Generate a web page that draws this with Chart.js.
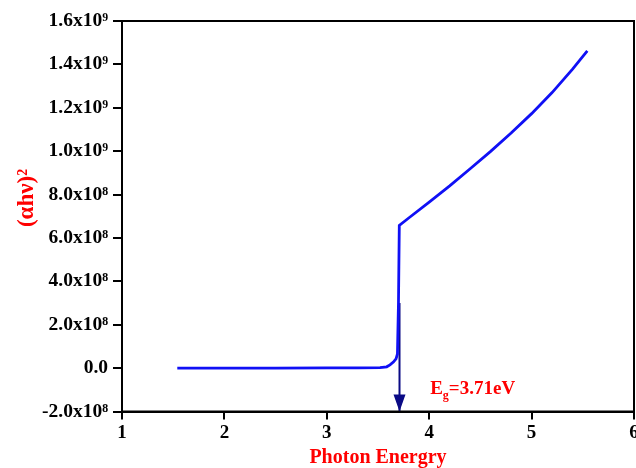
<!DOCTYPE html>
<html>
<head>
<meta charset="utf-8">
<script src="https://cdn.jsdelivr.net/npm/chart.js@4.4.0/dist/chart.umd.min.js"></script>
<style>
    html, body { margin: 0; padding: 0; background: #fff; }
    #wrap { width: 636px; height: 468px; }
</style>
</head>
<body>
<div id="wrap"><canvas id="chart" width="636" height="468"></canvas></div>
<script>
// Tauc plot data: photon energy (eV) vs (αhν)^2
const energy = [1.54, 2.0, 2.5, 3.0, 3.3, 3.52, 3.585, 3.617, 3.65, 3.676, 3.69, 3.70, 3.708,
                3.8, 4.0, 4.2, 4.4, 4.6, 4.8, 5.0, 5.2, 5.4, 5.544];
const absorb = [0, 0, 0, 0.01e8, 0.01e8, 0.02e8, 0.06e8, 0.15e8, 0.28e8, 0.43e8, 0.65e8, 3.0e8, 6.58e8,
                6.92e8, 7.65e8, 8.40e8, 9.19e8, 9.99e8, 10.84e8, 11.73e8, 12.70e8, 13.78e8, 14.62e8];

// band gap marker
const gapEnergy = [3.71, 3.71];
const gapArrow = [3.0e8, -2.0e8];
const gapLabel = { x: 4.0, y: -1.2e8 };

const xTicks = [1, 2, 3, 4, 5, 6];
const yTicks = [-2e8, 0, 2e8, 4e8, 6e8, 8e8, 1e9, 1.2e9, 1.4e9, 1.6e9];
const yTickLabels = ['-2.0x10⁸', '0.0', '2.0x10⁸', '4.0x10⁸', '6.0x10⁸', '8.0x10⁸',
                     '1.0x10⁹', '1.2x10⁹', '1.4x10⁹', '1.6x10⁹'];

const SERIF = '"Liberation Serif", "Times New Roman", serif';

// frame, y title, arrow head and Eg label
const extrasPlugin = {
    id: 'extras',
    afterDraw(chart) {
        const { ctx, chartArea: a, scales } = chart;
        ctx.save();
        ctx.strokeStyle = '#000';
        ctx.lineWidth = 2;
        ctx.strokeRect(a.left, a.top, a.right - a.left, a.bottom - a.top);

        // arrow head
        const ax = scales.x.getPixelForValue(gapEnergy[1]);
        const ay = scales.y.getPixelForValue(gapArrow[1]);
        ctx.fillStyle = '#0a0a85';
        ctx.beginPath();
        ctx.moveTo(ax, ay);
        ctx.lineTo(ax - 6, ay - 17);
        ctx.lineTo(ax + 6, ay - 17);
        ctx.closePath();
        ctx.fill();

        // Eg label
        let lx = scales.x.getPixelForValue(gapLabel.x) + 1;
        const ly = scales.y.getPixelForValue(gapLabel.y);
        ctx.fillStyle = '#ff0000';
        ctx.textBaseline = 'alphabetic';
        ctx.textAlign = 'left';
        ctx.font = 'bold 19px ' + SERIF;
        ctx.fillText('E', lx, ly);
        lx += ctx.measureText('E').width;
        ctx.font = 'bold 12px ' + SERIF;
        ctx.fillText('g', lx, ly + 5);
        lx += ctx.measureText('g').width;
        ctx.font = 'bold 19px ' + SERIF;
        ctx.fillText('=3.71eV', lx, ly);

        // y axis title
        ctx.translate(27, 198);
        ctx.rotate(-Math.PI / 2);
        ctx.textAlign = 'center';
        ctx.textBaseline = 'middle';
        ctx.font = 'bold 23px ' + SERIF;
        ctx.fillText('(αhν)²', 0, 0);
        ctx.restore();
    }
};

new Chart(document.getElementById('chart'), {
    type: 'scatter',
    data: {
        datasets: [{
            data: energy.map((e, i) => ({ x: e, y: absorb[i] })),
            showLine: true,
            borderColor: '#1010f5',
            borderWidth: 2.8,
            pointRadius: 0,
            tension: 0
        }, {
            data: gapEnergy.map((e, i) => ({ x: e, y: gapArrow[i] })),
            showLine: true,
            borderColor: '#0a0a85',
            borderWidth: 2,
            pointRadius: 0,
            clip: false
        }]
    },
    options: {
        responsive: false,
        animation: false,
        devicePixelRatio: 1,
        layout: { padding: { top: 21, right: 2, left: 0, bottom: 0 } },
        plugins: { legend: { display: false }, tooltip: { enabled: false } },
        scales: {
            x: {
                type: 'linear',
                min: 1,
                max: 6,
                afterFit: s => { s.height = 56.5; s.paddingLeft = 0; s.paddingRight = 0; },
                afterBuildTicks: s => { s.ticks = xTicks.map(v => ({ value: v })); },
                grid: { drawOnChartArea: false, drawTicks: true, tickLength: 8, color: '#000', lineWidth: 2 },
                border: { display: true, color: '#000', width: 2 },
                ticks: { color: '#000', padding: 2, maxRotation: 0, font: { family: SERIF, size: 19, weight: 'bold' } },
                title: {
                    display: true,
                    text: 'Photon Energry',
                    color: '#ff0000',
                    padding: 0,
                    font: { family: SERIF, size: 20, weight: 'bold', lineHeight: 1 }
                }
            },
            y: {
                min: -2e8,
                max: 1.6e9,
                afterFit: s => { s.width = 122; s.paddingTop = 0; s.paddingBottom = 0; },
                afterBuildTicks: s => { s.ticks = yTicks.map(v => ({ value: v })); },
                grid: { drawOnChartArea: false, drawTicks: true, tickLength: 9, color: '#000', lineWidth: 2 },
                border: { display: true, color: '#000', width: 2 },
                ticks: {
                    color: '#000',
                    padding: 5,
                    font: { family: SERIF, size: 19.5, weight: 'bold' },
                    callback: v => yTickLabels[yTicks.indexOf(v)]
                }
            }
        }
    },
    plugins: [extrasPlugin]
});
</script>
</body>
</html>
